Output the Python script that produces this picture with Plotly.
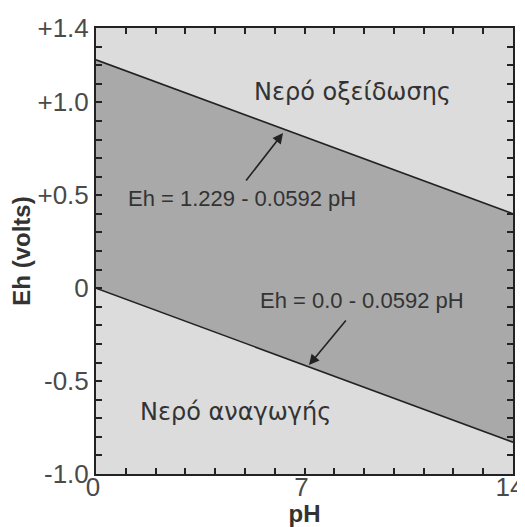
import plotly.graph_objects as go

ph = [0, 14]
eh_upper = [1.229, 0.4002]
eh_lower = [0.0, -0.8288]

x_tickvals = [0, 7, 14]
x_ticktext = ["0", "7", "14"]
y_tickvals = [-1.0, -0.5, 0, 0.5, 1.0, 1.4]
y_ticktext = ["-1.0", "-0.5", "0", "+0.5", "+1.0", "+1.4"]

light = "#dcdcdc"
dark = "#a9a9a9"
linec = "#222222"

fig = go.Figure()
fig.add_trace(go.Scatter(x=ph, y=eh_upper, mode="lines",
                         line=dict(color=linec, width=1.6), hoverinfo="skip"))
fig.add_trace(go.Scatter(x=ph, y=eh_lower, mode="lines", fill="tonexty",
                         fillcolor=dark, line=dict(color=linec, width=1.6),
                         hoverinfo="skip"))

tickfont = dict(family="Liberation Sans, Arial", size=26, color="#4a4a4a")
titlefont = dict(family="Liberation Sans, Arial", size=24, color="#333333")
textfont = dict(family="Liberation Sans, Arial", size=22, color="#333333")
greekfont = dict(family="DejaVu Sans", size=24, color="#333333")

minor_x = dict(dtick=1, tick0=0, ticks="inside", ticklen=6, tickwidth=1.5, tickcolor=linec)
minor_y = dict(dtick=0.1, tick0=0, ticks="inside", ticklen=6, tickwidth=1.5, tickcolor=linec)

# page body has an 8px margin, so the figure is sized/placed to compensate
fig.update_layout(
    width=517, height=519,
    margin=dict(l=88, r=12, t=20, b=53),
    paper_bgcolor="white", plot_bgcolor=light,
    showlegend=False,
    xaxis=dict(range=[0, 14], tickmode="array", tickvals=x_tickvals, ticktext=x_ticktext,
               ticks="inside", ticklen=6, tickwidth=1.5, tickcolor=linec,
               minor=minor_x, layer="above traces",
               showline=True, linecolor=linec, linewidth=2, mirror="ticks",
               showgrid=False, zeroline=False, tickfont=tickfont,
               automargin=False, ticklabelstandoff=-11, ticklabelshift=-3,
               ticklabeloverflow="allow",
               title=dict(text="<b>pH</b>", font=titlefont, standoff=0)),
    yaxis=dict(range=[-1.0, 1.4], tickmode="array", tickvals=y_tickvals, ticktext=y_ticktext,
               ticks="inside", ticklen=6, tickwidth=1.5, tickcolor=linec,
               minor=minor_y, layer="above traces",
               showline=True, linecolor=linec, linewidth=2, mirror="ticks",
               showgrid=False, zeroline=False, tickfont=tickfont,
               automargin=False, ticklabeloverflow="allow",
               title=dict(text="<b>Eh (volts)</b>", font=titlefont, standoff=0)),
)

fig.add_annotation(x=8.6, y=1.056, text="Νερό οξείδωσης", showarrow=False, font=greekfont)
fig.add_annotation(x=4.7, y=-0.667, text="Νερό αναγωγής", showarrow=False, font=greekfont)
fig.add_annotation(x=4.9, y=0.48, text="Eh = 1.229 - 0.0592 pH", showarrow=False, font=textfont)
fig.add_annotation(x=8.93, y=-0.064, text="Eh = 0.0 - 0.0592 pH", showarrow=False, font=textfont)

fig.add_annotation(x=6.28, y=0.835, ax=5.0, ay=0.571, axref="x", ayref="y",
                   xref="x", yref="y", text="", showarrow=True,
                   arrowhead=2, arrowsize=1.3, arrowwidth=1.6, arrowcolor=linec)
fig.add_annotation(x=7.15, y=-0.414, ax=8.43, ay=-0.166, axref="x", ayref="y",
                   xref="x", yref="y", text="", showarrow=True,
                   arrowhead=2, arrowsize=1.3, arrowwidth=1.6, arrowcolor=linec)

fig.write_html("out.html")
